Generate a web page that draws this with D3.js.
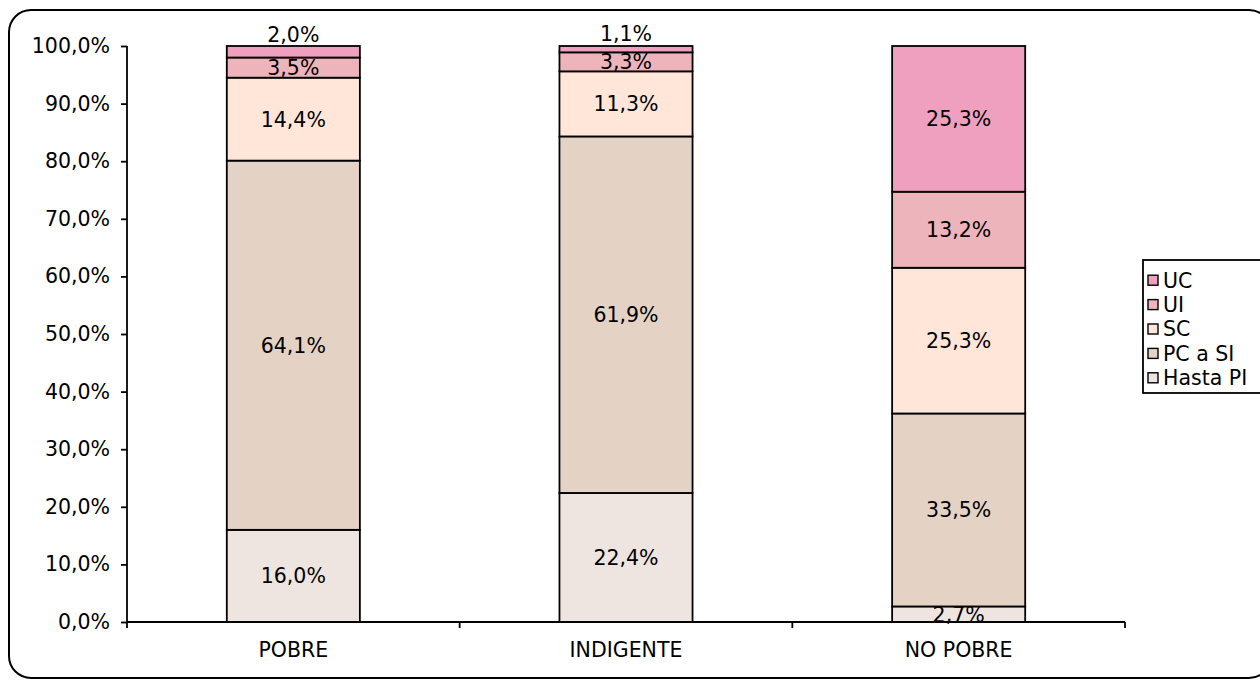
<!DOCTYPE html>
<html><head><meta charset="utf-8">
<script src="https://cdn.jsdelivr.net/npm/d3@7/dist/d3.min.js"></script>
<style>body{margin:0;background:#fff}svg{display:block;font-family:"DejaVu Sans",Verdana,sans-serif}</style>
</head><body><svg id="c" width="1260" height="680"></svg>
<script>
const categories = ["POBRE", "INDIGENTE", "NO POBRE"];
const seriesNames = ["Hasta PI", "PC a SI", "SC", "UI", "UC"];
const hastaPI = [16.0, 22.4, 2.7];
const pcASI = [64.1, 61.9, 33.5];
const sc = [14.4, 11.3, 25.3];
const ui = [3.5, 3.3, 13.2];
const uc = [2.0, 1.1, 25.3];
const yTicks = [0,10,20,30,40,50,60,70,80,90,100];
const colors = ["#EFE5E0", "#E4D3C5", "#FFE6D9", "#EEB4BB", "#EFA0BF"];

const seriesValues = [hastaPI, pcASI, sc, ui, uc];
const svg = d3.select("#c");
const fmt = v => v.toFixed(1).replace(".", ",") + "%";
const FS = 20.5;

// outer rounded border
svg.append("rect").attr("x", 9).attr("y", 10).attr("width", 1262).attr("height", 668)
  .attr("rx", 22).attr("ry", 22).attr("fill", "none").attr("stroke", "#000").attr("stroke-width", 2);

const L = 127, R = 1125, T = 46, B = 622;
const x = d3.scaleBand().domain(categories).range([L, R]).paddingInner(0.6).paddingOuter(0.3);
const xOuter = d3.scaleBand().domain(categories).range([L, R]);
const y = d3.scaleLinear().domain([0, 100]).range([B, T]);

const rows = categories.map((c, i) => {
  const o = {cat: c};
  seriesNames.forEach((s, j) => o[s] = seriesValues[j][i]);
  return o;
});
const stacked = d3.stack().keys(seriesNames)(rows);

const g = svg.append("g");
stacked.forEach((layer, j) => {
  g.selectAll(null).data(layer).enter().append("rect")
    .attr("x", d => x(d.data.cat))
    .attr("width", x.bandwidth())
    .attr("y", d => y(d[1]))
    .attr("height", d => y(d[0]) - y(d[1]))
    .attr("fill", colors[j])
    .attr("stroke", "#000").attr("stroke-width", 1.8);
});

stacked.forEach((layer, j) => {
  g.selectAll(null).data(layer).enter().append("text")
    .attr("x", d => x(d.data.cat) + x.bandwidth() / 2)
    .attr("y", d => {
      const v = d[1] - d[0];
      const isTop = j === seriesNames.length - 1;
      if (isTop && v < 2.5) return y(d[1]) - 10 - (2.5 - v) * 2;
      return y((d[0] + d[1]) / 2);
    })
    .attr("dy", "0.36em")
    .attr("text-anchor", "middle")
    .attr("font-size", FS)
    .attr("fill", "#000")
    .text(d => fmt(d[1] - d[0]));
});

// y axis
const ya = svg.append("g").attr("transform", `translate(${L},0)`)
  .call(d3.axisLeft(y).tickValues(yTicks).tickSize(6).tickPadding(11).tickFormat(v => fmt(v)));
ya.select(".domain").attr("stroke-width", 1.8).attr("d", `M0,${B}V${T}`);
ya.selectAll(".tick line").attr("stroke-width", 1.8);
ya.selectAll("text").attr("font-size", FS).attr("font-family", "DejaVu Sans, Verdana, sans-serif").attr("fill", "#000");

// x axis
const xa = svg.append("g").attr("transform", `translate(0,${B})`);
xa.append("line").attr("x1", L).attr("x2", R).attr("y1", 0).attr("y2", 0).attr("stroke", "#000").attr("stroke-width", 1.8);
const xTickPos = categories.map(c => xOuter(c)).concat([R]);
xa.selectAll(null).data(xTickPos).enter().append("line")
  .attr("x1", d => d).attr("x2", d => d).attr("y1", 0).attr("y2", 6)
  .attr("stroke", "#000").attr("stroke-width", 1.8);
xa.selectAll(null).data(categories).enter().append("text")
  .attr("x", d => xOuter(d) + xOuter.bandwidth() / 2)
  .attr("y", 28).attr("dy", "0.36em").attr("text-anchor", "middle")
  .attr("font-size", FS).attr("fill", "#000").text(d => d);

// legend
const lg = svg.append("g");
lg.append("rect").attr("x", 1143).attr("y", 260).attr("width", 140).attr("height", 133)
  .attr("fill", "#fff").attr("stroke", "#000").attr("stroke-width", 1.8);
const legendOrder = seriesNames.map((s, j) => ({s, c: colors[j]})).reverse();
const ly = d3.scaleBand().domain(legendOrder.map(d => d.s)).range([268, 390]);
const li = lg.selectAll(null).data(legendOrder).enter().append("g")
  .attr("transform", d => `translate(1148,${ly(d.s) + ly.bandwidth() / 2})`);
li.append("rect").attr("x", 0).attr("y", -5).attr("width", 10).attr("height", 10)
  .attr("fill", d => d.c).attr("stroke", "#000").attr("stroke-width", 1.4);
li.append("text").attr("x", 15).attr("dy", "0.36em").attr("font-size", FS).attr("fill", "#000").text(d => d.s);
</script></body></html>
